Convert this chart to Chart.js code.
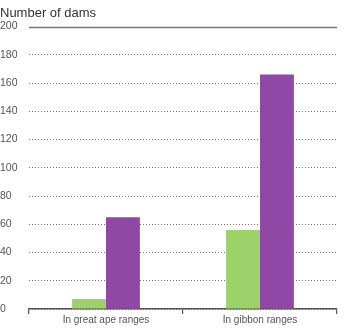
<!DOCTYPE html>
<html><head><meta charset="utf-8">
<script src="https://cdn.jsdelivr.net/npm/chart.js@4/dist/chart.umd.min.js"></script>
<style>html,body{margin:0;padding:0;background:#fff}#w{width:348px;height:328px}</style>
</head><body><div id="w"><canvas id="c"></canvas></div>
<script>
const categories = ["In great ape ranges", "In gibbon ranges"];
const seriesGreen = [7, 56];
const seriesPurple = [65, 166];
const yMin = 0, yMax = 200, yStep = 20;

const topLine = {
  id: 'topLine',
  afterDraw(chart) {
    const y = chart.scales.y, a = chart.chartArea, ctx = chart.ctx;
    const py = Math.round(y.getPixelForValue(yMax)) + 0.5;
    ctx.save();
    ctx.strokeStyle = '#777'; ctx.lineWidth = 1.5;
    ctx.beginPath(); ctx.moveTo(a.left, py); ctx.lineTo(a.right, py); ctx.stroke();
    ctx.restore();
  }
};

const FONT = 'Liberation Sans, Arial, sans-serif';
new Chart(document.getElementById('c'), {
  type: 'bar',
  data: {
    labels: categories,
    datasets: [
      { data: seriesGreen, backgroundColor: '#9dd26a', barPercentage: 1, categoryPercentage: 0.44 },
      { data: seriesPurple, backgroundColor: '#8f49a5', barPercentage: 1, categoryPercentage: 0.44 }
    ]
  },
  options: {
    responsive: true, maintainAspectRatio: false, animation: false,
    layout: { padding: { left: 0, right: 11, top: 0, bottom: 2 } },
    plugins: {
      legend: { display: false }, tooltip: { enabled: false },
      title: { display: true, text: 'Number of dams', align: 'start', color: '#333',
        font: { family: FONT, size: 13, weight: 'normal' }, padding: { top: 6, bottom: 5 } }
    },
    scales: {
      x: {
        grid: { offset: true, drawOnChartArea: false, drawTicks: true, tickLength: 5, color: '#555', lineWidth: 1.2 },
        border: { display: true, color: '#555', width: 1.5 },
        ticks: { color: '#555', font: { family: FONT, size: 10 }, padding: 0 }
      },
      y: {
        min: yMin, max: yMax,
        afterFit(s) { s.width = 29; },
        grid: { drawTicks: false, color: (c) => (c.tick && c.tick.value === yMax) ? 'rgba(0,0,0,0)' : '#777', lineWidth: 1 },
        border: { display: false, dash: [1, 2] },
        ticks: { stepSize: yStep, crossAlign: 'far', padding: 0, color: '#555',
          font: { family: FONT, size: 10.5 } }
      }
    }
  },
  plugins: [topLine]
});
</script></body></html>
